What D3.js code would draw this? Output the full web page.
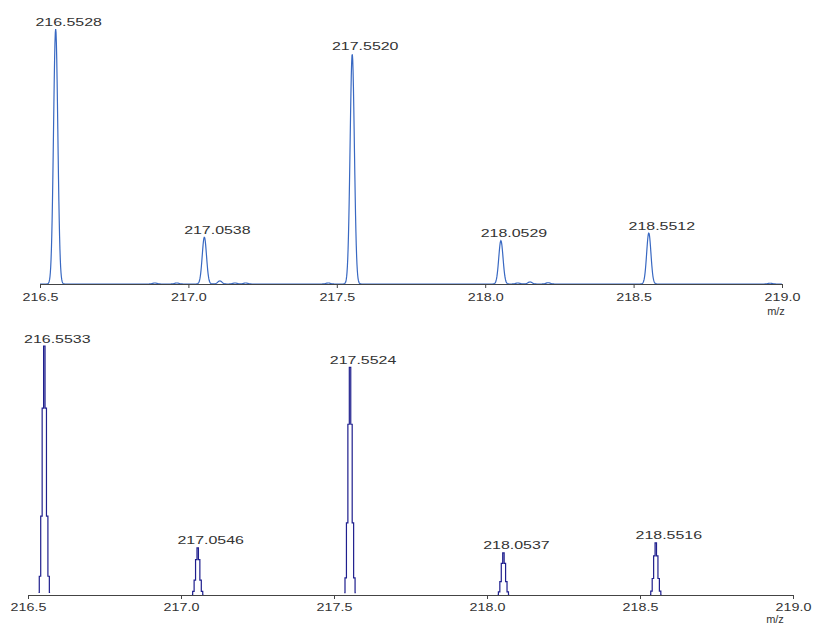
<!DOCTYPE html>
<html>
<head>
<meta charset="utf-8">
<script src="https://cdn.jsdelivr.net/npm/d3@7/dist/d3.min.js"></script>
<style>
  html, body { margin: 0; padding: 0; background: #fff; }
  svg { display: block; font-family: "Liberation Sans", Arial, sans-serif; }
</style>
</head>
<body>
<div id="chart"></div>
<script>
// peak lists (relative intensity, %)
const topMz = [216.5528, 217.0538, 217.5520, 218.0529, 218.5512];
const topIntensity = [100, 18.4, 90.2, 17.0, 20.0];
// tiny noise bumps on the upper trace
const topMinorMz = [216.887, 216.961, 217.106, 217.157, 217.193, 217.471, 218.110, 218.151, 218.212, 218.960];
const topMinorIntensity = [0.4, 0.4, 1.2, 0.4, 0.4, 0.4, 0.4, 0.8, 0.5, 0.3];

const bottomMz = [216.5533, 217.0546, 217.5524, 218.0537, 218.5516];
const bottomIntensity = [100, 18.9, 91.4, 16.9, 20.9];

const xTicks = [216.5, 217.0, 217.5, 218.0, 218.5, 219.0];
const xDomain = [216.5, 219.0];
const axisTitle = 'm/z';

const W = 815, H = 626;

const svg = d3.select('#chart').append('svg')
  .attr('width', W)
  .attr('height', H);

const fmtLabel = d3.format('.4f');
const fmtTick = d3.format('.1f');

function gauss(x, c, s) {
  const d = (x - c) / s;
  return Math.exp(-0.5 * d * d);
}

function drawPanel(p) {
  const x = d3.scaleLinear().domain(xDomain).range([p.x0, p.x1]);
  const y = d3.scaleLinear().domain([0, 100]).range([p.base, p.top]);
  const g = svg.append('g');

  const line = d3.line()
    .x(d => x(d[0]))
    .y(d => y(d[1]))
    .curve(p.curve);

  if (p.continuous) {
    // one profile trace across the whole range
    const peaks = p.mz.map((m, i) => [m, p.intensity[i]])
      .concat(p.minorMz.map((m, i) => [m, p.minorIntensity[i]]));
    const pts = d3.range(xDomain[0], xDomain[1] + p.step / 2, p.step)
      .map(v => [v, d3.sum(peaks, pk => pk[1] * gauss(v, pk[0], p.sigma))]);
    g.append('path')
      .datum(pts)
      .attr('fill', 'none')
      .attr('stroke', p.color)
      .attr('stroke-width', 1.2)
      .attr('d', line);
  } else {
    // each centroid drawn as a coarse stepped profile
    p.mz.forEach((m, i) => {
      const pts = d3.range(-4, 5).map(k => {
        const v = m + k * p.step;
        return [v, p.intensity[i] * gauss(v, m, p.sigma)];
      });
      g.append('path')
        .datum(pts)
        .attr('fill', 'none')
        .attr('stroke', p.color)
        .attr('stroke-width', 1.2)
        .attr('d', line);
    });
  }

  // axis
  const ax = g.append('g')
    .attr('transform', `translate(0,${p.base})`)
    .call(d3.axisBottom(x).tickValues(xTicks).tickSize(4).tickSizeOuter(0).tickFormat(fmtTick));
  ax.select('.domain').attr('stroke', '#444').attr('stroke-width', 1.2);
  ax.selectAll('.tick line').attr('stroke', '#444');
  ax.selectAll('.tick text')
    .attr('y', 0).attr('dy', 0)
    .attr('fill', '#333')
    .attr('font-size', 11)
    .attr('transform', `translate(0,${p.tickDy}) scale(1.3,1)`);

  g.append('text')
    .attr('x', p.mzX)
    .attr('y', p.base + p.mzDy)
    .attr('text-anchor', 'middle')
    .attr('font-size', 11)
    .attr('fill', '#333')
    .text(axisTitle);

  // peak labels
  g.selectAll('text.peak')
    .data(p.mz.map((m, i) => ({ m, v: p.intensity[i] })))
    .join('text')
    .attr('class', 'peak')
    .attr('text-anchor', 'middle')
    .attr('font-size', 11)
    .attr('fill', '#333')
    .attr('transform', d => `translate(${x(d.m) + 13},${y(d.v) - 3.5}) scale(1.45,1)`)
    .text(d => fmtLabel(d.m));
}

drawPanel({
  mz: topMz, intensity: topIntensity,
  minorMz: topMinorMz, minorIntensity: topMinorIntensity,
  continuous: true,
  x0: 40, x1: 782, base: 284, top: 29,
  color: '#3868c2', sigma: 0.0072, step: 0.0012, curve: d3.curveLinear,
  tickDy: 17, mzX: 776, mzDy: 31
});

drawPanel({
  mz: bottomMz, intensity: bottomIntensity,
  continuous: false,
  x0: 28, x1: 793, base: 595, top: 346,
  color: '#1f1f8e', sigma: 0.0062, step: 0.0047, curve: d3.curveStep,
  tickDy: 15.5, mzX: 775, mzDy: 28
});
</script>
</body>
</html>
